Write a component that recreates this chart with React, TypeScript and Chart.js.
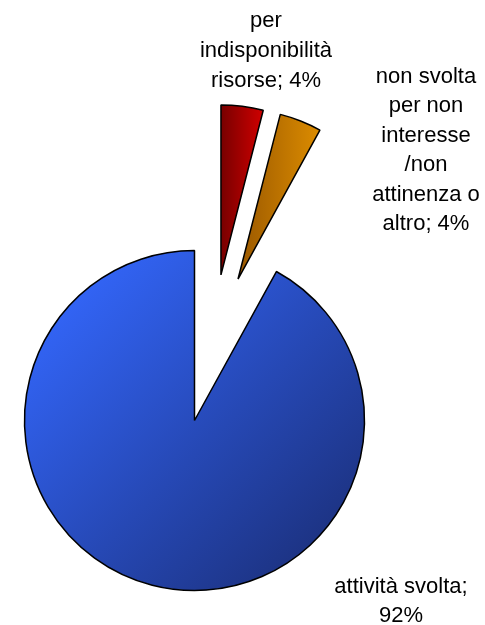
import React, { useEffect, useRef } from "react";
import { Chart, registerables } from "chart.js";

Chart.register(...registerables);

// ---- data ----
const categories = [
  "per indisponibilità risorse",
  "non svolta per non interesse /non attinenza o altro",
  "attività svolta",
];
const values = [4, 4, 92];
const labelLines = [
  ["per", "indisponibilità", "risorse; 4%"],
  ["non svolta", "per non", "interesse", "/non", "attinenza o", "altro; 4%"],
  ["attività svolta;", "92%"],
];

// ---- styles ----
// explosion of each slice: distance (px) and direction (degrees clockwise from 12 o'clock)
const explodeDist = [148, 148, 0];
const explodeDir = [10.3, 17.1, 0];
const gradientStops = [
  ["#780000", "#D00000"],
  ["#9A5800", "#DC8C00"],
  ["#3468FF", "#1B2F7A"],
];
const labelAnchors = [
  { x: 266, y: 27, step: 30 },
  { x: 426, y: 83, step: 29.4 },
  { x: 401, y: 593, step: 29 },
];
const RADIUS = 170;
const FONT = "22px 'Liberation Sans', Arial, sans-serif";

function explodeVec(i: number) {
  const a = (explodeDir[i] * Math.PI) / 180;
  return { dx: explodeDist[i] * Math.sin(a), dy: -explodeDist[i] * Math.cos(a) };
}

function sliceGeom(chart: any, i: number) {
  const a = chart.chartArea;
  const cx = (a.left + a.right) / 2;
  const cy = (a.top + a.bottom) / 2;
  const total = values.reduce((s, v) => s + v, 0);
  let before = 0;
  for (let k = 0; k < i; k++) before += values[k];
  const start = (before / total) * Math.PI * 2 - Math.PI / 2;
  const end = ((before + values[i]) / total) * Math.PI * 2 - Math.PI / 2;
  const v = explodeVec(i);
  return { ox: cx + v.dx, oy: cy + v.dy, start, end };
}

function makeGradient(c: any) {
  const chart = c.chart;
  const i = c.dataIndex;
  if (!chart.chartArea || i === undefined) return gradientStops[i ?? 0][0];
  const g = sliceGeom(chart, i);
  const ctx = chart.ctx as CanvasRenderingContext2D;
  let grad: CanvasGradient;
  if (values[i] > 50) {
    grad = ctx.createLinearGradient(
      g.ox - RADIUS * 0.85,
      g.oy - RADIUS * 0.85,
      g.ox + RADIUS * 0.85,
      g.oy + RADIUS * 0.85
    );
  } else {
    const xs = [
      g.ox,
      g.ox + RADIUS * Math.cos(g.start),
      g.ox + RADIUS * Math.cos(g.end),
    ];
    grad = ctx.createLinearGradient(Math.min(...xs), 0, Math.max(...xs), 0);
  }
  grad.addColorStop(0, gradientStops[i][0]);
  grad.addColorStop(1, gradientStops[i][1]);
  return grad;
}

const explodePlugin = {
  id: "explodeSlices",
  afterDatasetsUpdate(chart: any) {
    const meta = chart.getDatasetMeta(0);
    meta.data.forEach((arc: any, i: number) => {
      const v = explodeVec(i);
      arc.x += v.dx;
      arc.y += v.dy;
    });
  },
};

const labelPlugin = {
  id: "sliceLabels",
  afterDraw(chart: any) {
    const ctx = chart.ctx as CanvasRenderingContext2D;
    ctx.save();
    ctx.font = FONT;
    ctx.fillStyle = "#000";
    ctx.textAlign = "center";
    ctx.textBaseline = "alphabetic";
    labelLines.forEach((lines, i) => {
      const a = labelAnchors[i];
      lines.forEach((ln, j) => ctx.fillText(ln, a.x, a.y + j * a.step));
    });
    ctx.restore();
  },
};

export default function App() {
  const ref = useRef<HTMLCanvasElement | null>(null);
  useEffect(() => {
    if (!ref.current) return;
    const chart = new Chart(ref.current, {
      type: "pie",
      data: {
        labels: categories,
        datasets: [
          {
            data: values,
            backgroundColor: makeGradient as any,
            borderColor: "#000",
            borderWidth: 1.5,
            clip: false as any,
          },
        ],
      },
      options: {
        responsive: false,
        animation: false,
        events: [],
        radius: RADIUS,
        layout: { padding: { left: 0, right: 96, top: 216, bottom: 0 } },
        plugins: {
          legend: { display: false },
          tooltip: { enabled: false },
        },
      } as any,
      plugins: [explodePlugin, labelPlugin],
    });
    return () => chart.destroy();
  }, []);
  return (
    <div style={{ position: "absolute", left: 0, top: 0, width: 485, height: 625, background: "#fff" }}>
      <canvas ref={ref} width={485} height={625} style={{ display: "block" }} />
    </div>
  );
}
